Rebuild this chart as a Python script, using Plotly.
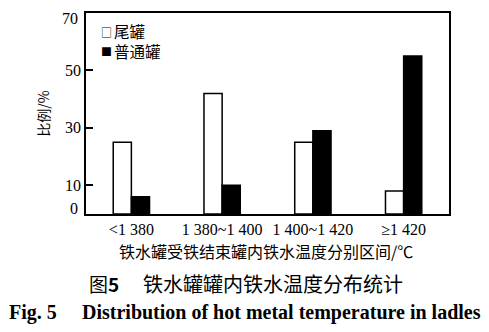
import plotly.graph_objects as go

# Temperature intervals at the end of iron receiving (°C)
categories = ["<1 380", "1 380~1 400", "1 400~1 420", "≥1 420"]
# Share of ladles in each interval (%)
tail_ladle = [25, 42, 25, 8]       # 尾罐
normal_ladle = [6, 10, 29, 55]     # 普通罐
y_ticks = [10, 30, 50]

serif = "'Liberation Serif', 'Times New Roman', 'Noto Sans CJK SC', serif"
cjk = "'Noto Sans CJK SC', 'Liberation Serif', serif"

W, H = 489, 332
ML, MR, MT, MB = 86, 40, 11, 118
PW, PH = W - ML - MR, H - MT - MB


def px_x(px):
    """Pixel column -> paper x."""
    return (px - ML) / PW


def px_y(py):
    """Pixel row -> paper y."""
    return (H - MB - py) / PH


def label(text, x, y, size, family, xanchor="left"):
    fig.add_annotation(
        x=px_x(x), xref="paper", y=px_y(y), yref="paper",
        xanchor=xanchor, yanchor="middle", showarrow=False, align="left",
        text=text, font=dict(family=family, size=size),
    )


fig = go.Figure()
fig.add_trace(go.Bar(
    x=categories, y=tail_ladle, name="尾罐",
    marker=dict(color="white", line=dict(color="black", width=1.5)),
))
fig.add_trace(go.Bar(
    x=categories, y=normal_ladle, name="普通罐",
    marker=dict(color="black", line=dict(color="black", width=1.5)),
))

fig.update_layout(
    width=W, height=H,
    margin=dict(l=ML, r=MR, t=MT, b=MB),
    paper_bgcolor="white", plot_bgcolor="white",
    barmode="group", bargap=0.6, bargroupgap=0,
    font=dict(family=serif, size=14, color="black"),
    showlegend=False,
)

fig.update_xaxes(
    showline=True, linecolor="black", linewidth=1.5, mirror=True,
    ticks="", showgrid=False, range=[-0.5, 3.5],
    tickfont=dict(family=serif, size=16),
)
fig.update_yaxes(
    showline=True, linecolor="black", linewidth=1.5, mirror=True,
    range=[0, 70], tickvals=y_ticks, ticktext=[str(v) for v in y_ticks],
    ticks="inside", ticklen=7, tickwidth=1.5, tickcolor="black",
    showgrid=False, zeroline=False,
    tickfont=dict(family=serif, size=16),
    title=dict(text="比例/%", font=dict(family=cjk, size=14), standoff=12),
)

# End labels of the value axis, set slightly inside the frame
for v, shift in [(0, 6), (70, -5)]:
    fig.add_annotation(
        x=0, xref="paper", xanchor="right", xshift=-6,
        y=v, yref="y", yshift=shift, yanchor="middle",
        text=str(v), showarrow=False, font=dict(family=serif, size=16),
    )

# Key: open square for tail ladles, filled square for normal ladles
label("□", 106, 30, 11, cjk, xanchor="center")
label("■", 106, 49, 11, cjk, xanchor="center")
label("尾罐<br>普通罐", 112, 39.5, 15.5, cjk)

# Axis title under the category labels
label("铁水罐受铁结束罐内铁水温度分别区间/℃", 266, 251, 16, cjk, xanchor="center")

# Figure caption (Chinese)
label("图<b>5</b>", 87, 284, 19, cjk)
label("铁水罐罐内铁水温度分布统计", 141, 284, 20, cjk)

# Figure caption (English)
label("<b>Fig. 5</b>", 7, 313, 20, serif)
label("<b>Distribution of hot metal temperature in ladles</b>", 483, 313, 20,
      serif, xanchor="right")

fig.write_html("out.html")
